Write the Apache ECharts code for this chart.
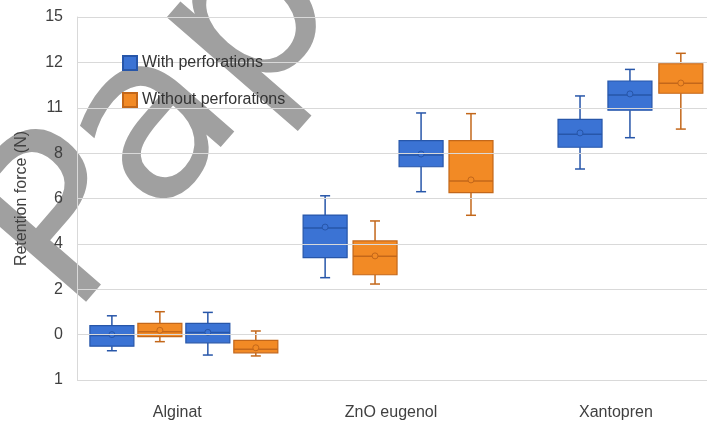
<!DOCTYPE html>
<html>
<head>
<meta charset="utf-8">
<script src="https://cdn.jsdelivr.net/npm/echarts@6/dist/echarts.min.js"></script>
<style>
html,body{margin:0;padding:0;background:#fff;}
#chart{width:707px;height:428px;}
</style>
</head>
<body>
<div id="chart"></div>
<script>
// ---------- DATA ----------
const categories = ['Alginat', 'ZnO eugenol', 'Xantopren'];
const seriesNames = ['With perforations', 'Without perforations'];
// five-number summaries [min, Q1, median, Q3, max]
const withPerforations = [
  [-0.71, -0.51, -0.04, 0.40, 0.83],   // Alginat
  [-0.90, -0.36, 0.09, 0.50, 0.98],    // Alginat
  [2.51, 3.39, 4.70, 5.27, 6.12],      // ZnO eugenol
  [6.30, 7.40, 7.92, 8.55, 9.77],      // ZnO eugenol
  [7.30, 8.26, 8.83, 9.49, 10.52],     // Xantopren
  [8.68, 9.89, 10.56, 11.18, 11.69]    // Xantopren
];
const withPerforationsMean = [0.00, 0.10, 4.74, 7.96, 8.89, 10.61];
const withoutPerforations = [
  [-0.31, -0.09, 0.13, 0.50, 1.01],    // Alginat
  [-0.94, -0.80, -0.65, -0.25, 0.16],  // Alginat
  [2.23, 2.64, 3.45, 4.13, 5.01],      // ZnO eugenol
  [5.26, 6.26, 6.77, 8.55, 9.74],      // ZnO eugenol
  [9.06, 10.64, 11.08, 11.94, 12.40]   // Xantopren
];
const withoutPerforationsMean = [0.19, -0.58, 3.47, 6.82, 11.09];
// y tick values and their printed labels
const yTickValues = [-2, 0, 2, 4, 6, 8, 10, 12, 14];
const yTickLabels = ['1', '0', '2', '4', '6', '8', '11', '12', '15'];
const watermarkText = 'Paper';

// ---------- LAYOUT (slot positions along the x axis) ----------
const groupCenters = [2.07, 6.48, 11.12];
const withSlots = [0.72, 2.70, 5.12, 7.10, 10.38, 11.41];
const withoutSlots = [1.71, 3.69, 6.15, 8.13, 12.46];

function buildItems(slots, rows, means) {
  return rows.map((r, i) => [slots[i], r[0], r[1], r[2], r[3], r[4], means[i]]);
}

const styles = [
  { fill: '#3b73d4', stroke: '#2756a9' },
  { fill: '#f28a25', stroke: '#c3671a' }
];

function makeRenderer(st) {
  return function (params, api) {
    const x = api.value(0);
    const pMin = api.coord([x, api.value(1)]);
    const pQ1 = api.coord([x, api.value(2)]);
    const pMed = api.coord([x, api.value(3)]);
    const pQ3 = api.coord([x, api.value(4)]);
    const pMax = api.coord([x, api.value(5)]);
    const pMean = api.coord([x, api.value(6)]);
    const cx = pMed[0];
    const hw = 22, cw = 5;
    const ls = { stroke: st.stroke, lineWidth: 1.5 };
    return {
      type: 'group',
      children: [
        { type: 'line', shape: { x1: cx, y1: pMax[1], x2: cx, y2: pQ3[1] }, style: ls },
        { type: 'line', shape: { x1: cx, y1: pQ1[1], x2: cx, y2: pMin[1] }, style: ls },
        { type: 'line', shape: { x1: cx - cw, y1: pMax[1], x2: cx + cw, y2: pMax[1] }, style: ls },
        { type: 'line', shape: { x1: cx - cw, y1: pMin[1], x2: cx + cw, y2: pMin[1] }, style: ls },
        { type: 'rect', shape: { x: cx - hw, y: pQ3[1], width: 2 * hw, height: pQ1[1] - pQ3[1] },
          style: { fill: st.fill, stroke: st.stroke, lineWidth: 1.2 } },
        { type: 'line', shape: { x1: cx - hw, y1: pMed[1], x2: cx + hw, y2: pMed[1] }, style: ls },
        { type: 'circle', shape: { cx: cx, cy: pMean[1], r: 3 },
          style: { fill: st.fill, stroke: st.stroke, lineWidth: 1 } }
      ]
    };
  };
}

const chart = echarts.init(document.getElementById('chart'), null, { renderer: 'canvas' });
const FONT = 'Liberation Sans, Arial, sans-serif';

const option = {
  backgroundColor: '#ffffff',
  animation: false,
  textStyle: { fontFamily: FONT },
  grid: { left: 77, right: 0, top: 17, bottom: 48 },
  graphic: [
    { type: 'rect', z: 1, shape: { x: 88, y: 40, width: 225, height: 80 }, style: { fill: '#ffffff' } },
    { type: 'text', z: 2, x: 113, y: 355, rotation: 49 * Math.PI / 180,
      style: { text: watermarkText, fontSize: 230, fontFamily: 'DejaVu Sans', fill: '#a0a0a0', align: 'left', verticalAlign: 'bottom' } }
  ],
  legend: {
    z: 5,
    orient: 'vertical',
    left: 117, top: 50,
    icon: 'rect',
    itemWidth: 14, itemHeight: 14, itemGap: 21,
    textStyle: { fontSize: 16, color: '#333333', fontFamily: FONT },
    data: seriesNames
  },
  xAxis: {
    type: 'value', min: 0, max: 13,
    axisLine: { show: false }, axisTick: { show: false }, splitLine: { show: false },
    axisLabel: {
      customValues: groupCenters,
      formatter: function (v) {
        let best = 0;
        groupCenters.forEach((c, i) => { if (Math.abs(c - v) < Math.abs(groupCenters[best] - v)) best = i; });
        return categories[best];
      },
      margin: 25, fontSize: 16, color: '#404040', fontFamily: FONT
    }
  },
  yAxis: {
    type: 'value', min: -2, max: 14, interval: 2, z: 4,
    name: 'Retention force (N)', nameLocation: 'middle', nameGap: 47, nameRotate: 90,
    nameTextStyle: { fontSize: 16, color: '#404040', fontFamily: FONT },
    axisLine: { show: true, lineStyle: { color: '#d9d9d9', width: 1 } },
    axisTick: { show: false },
    splitLine: { show: true, lineStyle: { color: '#d9d9d9', width: 1 } },
    axisLabel: {
      margin: 14, fontSize: 16, color: '#404040', fontFamily: FONT,
      formatter: function (v) {
        const i = yTickValues.indexOf(Math.round(v));
        return i >= 0 ? yTickLabels[i] : '';
      }
    }
  },
  series: [
    {
      name: seriesNames[0], type: 'custom', z: 3,
      itemStyle: { color: styles[0].fill, borderColor: styles[0].stroke, borderWidth: 1 },
      renderItem: makeRenderer(styles[0]),
      encode: { x: 0, y: [1, 2, 3, 4, 5, 6] },
      data: buildItems(withSlots, withPerforations, withPerforationsMean)
    },
    {
      name: seriesNames[1], type: 'custom', z: 3,
      itemStyle: { color: styles[1].fill, borderColor: styles[1].stroke, borderWidth: 1 },
      renderItem: makeRenderer(styles[1]),
      encode: { x: 0, y: [1, 2, 3, 4, 5, 6] },
      data: buildItems(withoutSlots, withoutPerforations, withoutPerforationsMean)
    }
  ]
};
chart.setOption(option);
</script>
</body>
</html>
